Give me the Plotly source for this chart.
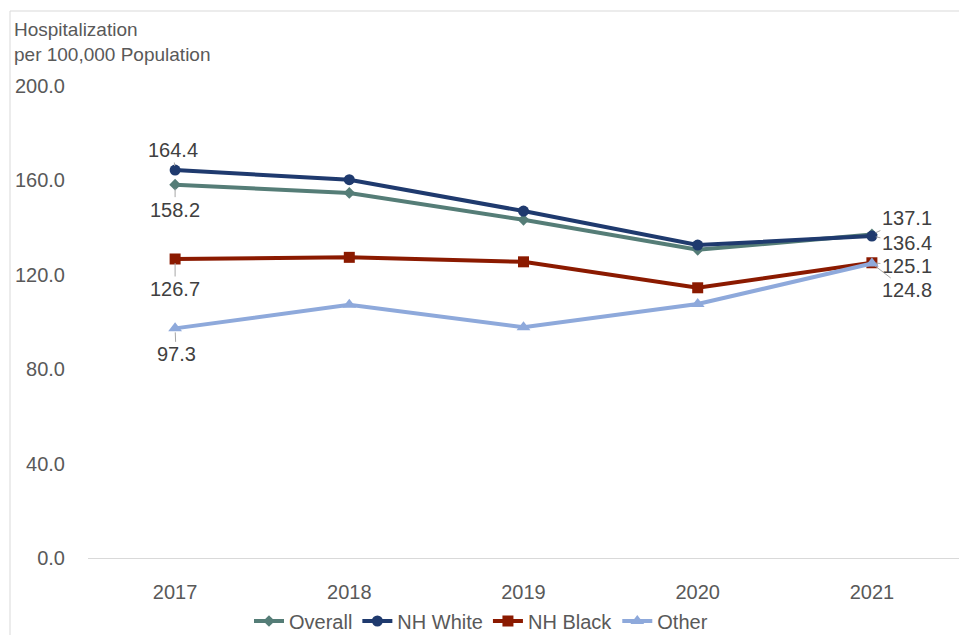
import plotly.graph_objects as go

years = ["2017", "2018", "2019", "2020", "2021"]
overall = [158.2, 154.7, 143.3, 130.6, 137.1]
nh_white = [164.4, 160.3, 147.0, 132.6, 136.4]
nh_black = [126.7, 127.4, 125.5, 114.5, 125.1]
other = [97.3, 107.3, 97.8, 107.6, 124.8]

series_names = ["Overall", "NH White", "NH Black", "Other"]
series_vals = [overall, nh_white, nh_black, other]
colors = ["#557D77", "#1F3A6E", "#8B1A00", "#8EA9DB"]
symbols = ["diamond", "circle", "square", "triangle-up"]
msizes = [9, 11, 11, 12]

PL, PR, PT, PB = 88, 959, 86, 558
W, H = 959, 635

fig = go.Figure()
for name, vals, c, s, ms in zip(series_names, series_vals, colors, symbols, msizes):
    fig.add_trace(go.Scatter(
        x=years, y=vals, name=name, mode="lines+markers",
        line=dict(color=c, width=4),
        marker=dict(symbol=s, size=ms, color=c),
        hoverinfo="skip",
    ))

# label offsets (pixels) for first and last points
first_offsets = [(0, 25), (-2, -20), (0, 30), (1, 26)]
last_offsets = [(35, -16), (35, 7), (35, 3), (35, 27)]
for vals, (ax0, ay0), (ax1, ay1) in zip(series_vals, first_offsets, last_offsets):
    for xi, ax, ay in ((0, ax0, ay0), (len(years) - 1, ax1, ay1)):
        fig.add_annotation(
            x=xi, y=vals[xi], text=f"{vals[xi]:.1f}",
            showarrow=True, arrowhead=0, arrowwidth=1, arrowcolor="#A6A6A6",
            ax=ax, ay=ay, standoff=4,
            font=dict(family="Liberation Sans, Arial, sans-serif", size=20, color="#404040"),
        )

def px_to_paper_x(px):
    return (px - PL) / (PR - PL)

def px_to_paper_y(py):
    return (PB - py) / (PB - PT)

fig.add_annotation(
    xref="paper", yref="paper",
    x=px_to_paper_x(12), y=px_to_paper_y(17),
    xanchor="left", yanchor="top", align="left", showarrow=False,
    text="Hospitalization<br>per 100,000 Population",
    font=dict(family="Liberation Sans, Arial, sans-serif", size=19, color="#595959"),
)

# chart border
fig.add_shape(
    type="rect", xref="paper", yref="paper",
    x0=px_to_paper_x(10), x1=px_to_paper_x(975),
    y0=px_to_paper_y(650), y1=px_to_paper_y(11),
    line=dict(color="#D9D9D9", width=1), fillcolor="rgba(0,0,0,0)", layer="below",
)

fig.update_layout(
    width=W, height=H,
    margin=dict(l=PL, r=W - PR, t=PT, b=H - PB, autoexpand=False),
    paper_bgcolor="white", plot_bgcolor="white",
    font=dict(family="Liberation Sans, Arial, sans-serif", size=20, color="#595959"),
    showlegend=True,
    legend=dict(
        orientation="h", xanchor="center", yanchor="middle",
        x=px_to_paper_x(481), y=px_to_paper_y(621),
        itemwidth=30, font=dict(size=20, color="#595959"),
        bgcolor="rgba(0,0,0,0)", tracegroupgap=0,
    ),
    xaxis=dict(
        type="category", range=[-0.5, 4.5],
        showgrid=False, zeroline=False,
        showline=True, linecolor="#D9D9D9", linewidth=1,
        ticks="", ticklabelstandoff=16,
        tickfont=dict(size=20, color="#595959"),
    ),
    yaxis=dict(
        range=[0, 200], dtick=40, tick0=0, tickformat=".1f",
        showgrid=False, zeroline=False, showline=False,
        ticks="", ticklabelstandoff=22,
        tickfont=dict(size=20, color="#595959"),
    ),
)

fig.write_html("out.html")
